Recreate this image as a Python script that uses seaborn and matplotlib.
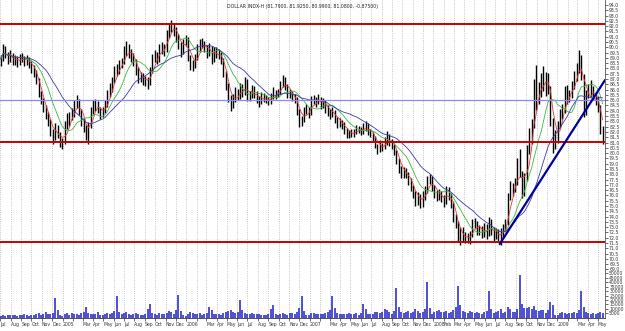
import numpy as np
import pandas as pd
import matplotlib
matplotlib.use('Agg')
import matplotlib.pyplot as plt
import seaborn as sns

# weekly bars (Jul 2004 - May 2009), one line per month
week_close = [
    88.9, 89.9, 89.4, 88.8, 89.3,   # 2004 Jul
    88.6, 88.9, 88.5, 89.1,
    89.0, 88.6, 88.9, 88.4,
    88.0, 87.6, 86.9, 85.6, 85.0,
    84.2, 83.6, 83.0, 82.0,
    81.4, 82.4, 81.8, 81.0, 80.8,
    82.6, 82.9, 83.5, 83.6,         # 2005 Jan
    84.6, 85.0, 84.0, 83.0,
    82.5, 81.6, 82.6, 84.0,
    84.6, 84.5, 84.2, 83.6, 84.0,
    84.6, 85.7, 86.0, 86.8,
    87.8, 87.9, 88.4, 88.6,
    89.6, 90.0, 89.4, 89.2, 88.6,
    87.8, 87.0, 87.3, 86.8,
    86.9, 86.6, 87.8, 89.0, 89.3,
    88.9, 89.9, 90.0, 89.8,
    91.3, 91.8, 92.2, 91.6,
    91.0, 90.2, 89.6, 90.4, 90.8,
    89.0, 88.4, 88.2, 89.0,         # 2006 Jan
    89.9, 90.4, 90.3, 90.0,
    89.4, 90.0, 88.8, 89.6, 89.4,
    89.3, 88.8, 87.6, 86.4,
    85.2, 84.6, 85.1, 85.8,
    85.4, 86.2, 85.7, 86.8, 85.2,
    85.5, 85.9, 85.6, 85.1,
    84.8, 85.4, 85.2, 85.0,
    84.8, 85.3, 85.7, 85.5, 85.8,
    86.4, 87.1, 86.3, 85.6,
    85.6, 85.3, 85.1, 84.0,
    82.9, 83.1, 84.0, 84.2, 83.7,
    85.0, 85.0, 84.8, 85.1,         # 2007 Jan
    84.6, 84.9, 84.2, 83.9,
    83.7, 84.0, 83.2, 82.8, 82.9,
    82.7, 82.2, 81.8, 81.8,
    81.9, 81.9, 82.4, 82.2,
    82.0, 82.4, 82.6, 82.0, 81.9,
    81.5, 80.8, 80.3, 80.8,
    80.5, 81.1, 81.7, 81.1, 80.8,
    80.2, 79.4, 78.5, 78.0,
    78.3, 78.0, 77.4, 76.8,
    76.2, 75.5, 75.9, 75.2, 76.0,
    76.4, 77.4, 77.6, 76.7,
    76.2, 75.9, 76.2, 75.8,         # 2008 Jan
    75.3, 76.5, 76.0, 75.2, 73.9,
    73.3, 72.0, 72.5, 72.0,
    71.9, 71.9, 72.3, 73.4,
    73.4, 72.7, 72.8, 72.4, 73.0,
    72.3, 73.6, 72.7, 72.1,
    72.5, 72.1, 72.4, 72.9,
    73.3, 75.8, 76.9, 76.5, 77.2,
    79.0, 78.1, 76.4, 77.6,
    80.4, 81.0, 82.6, 86.4, 85.0,
    86.2, 86.2, 87.8, 86.6,
    86.2, 83.0, 80.6, 81.6,
    82.6, 83.6, 84.1, 85.9, 85.2,   # 2009 Jan
    85.6, 86.4, 87.3, 88.1,
    89.1, 87.3, 83.8, 85.6,
    86.0, 85.8, 85.4, 85.0,
    84.3, 82.2, 81.1,
]

week_high = [
    89.3, 90.3, 90.1, 89.6, 89.7,
    89.5, 89.3, 89.2, 89.4,
    89.5, 89.2, 89.3, 89.1,
    88.7, 88.3, 87.9, 87.1, 85.9,
    85.2, 84.5, 83.9, 83.2,
    82.3, 82.8, 82.7, 82.0, 81.4,
    83.0, 83.8, 83.9, 84.3,
    85.0, 85.5, 85.1, 84.2,
    83.3, 82.7, 82.9, 84.4,
    85.0, 85.1, 84.9, 84.4, 84.4,
    85.0, 86.0, 86.6, 87.2,
    88.2, 88.4, 88.8, 89.0,
    90.1, 90.6, 90.3, 89.8, 89.5,
    88.9, 88.1, 87.7, 87.6,
    87.3, 87.2, 88.1, 89.4, 89.7,
    89.6, 90.3, 90.5, 90.3,
    91.6, 92.2, 92.6, 92.3,
    91.9, 91.3, 90.5, 90.8, 91.2,
    91.0, 89.3, 88.8, 89.4,
    90.3, 90.8, 90.9, 90.6,
    90.2, 90.4, 90.1, 90.0, 90.0,
    89.8, 89.6, 89.0, 87.8,
    86.6, 85.5, 85.6, 86.2,
    86.1, 86.6, 86.5, 87.2, 87.0,
    85.9, 86.4, 86.3, 85.9,
    85.4, 85.8, 85.7, 85.5,
    85.3, 85.7, 86.2, 86.0, 86.1,
    86.8, 87.4, 87.2, 86.5,
    86.1, 85.9, 85.6, 85.3,
    84.2, 83.5, 84.4, 84.6, 84.4,
    85.4, 85.5, 85.3, 85.6,
    85.3, 85.2, 85.0, 84.5,
    84.2, 84.4, 84.1, 83.4, 83.3,
    83.1, 82.9, 82.4, 82.2,
    82.3, 82.3, 82.7, 82.6,
    82.5, 82.8, 83.0, 82.8, 82.3,
    82.0, 81.6, 80.9, 81.2,
    81.0, 81.5, 82.1, 81.8, 81.3,
    80.9, 80.3, 79.5, 78.8,
    78.7, 78.6, 78.2, 77.6,
    77.0, 76.4, 76.3, 76.1, 76.4,
    76.9, 77.8, 78.0, 77.8,
    77.0, 76.5, 76.6, 76.4,
    76.0, 76.9, 76.8, 76.2, 75.4,
    74.2, 73.6, 73.0, 73.0,
    72.5, 72.4, 72.6, 73.8,
    73.9, 73.6, 73.2, 73.1, 73.4,
    73.3, 74.0, 73.8, 73.0,
    72.9, 72.8, 72.9, 73.3,
    73.8, 76.2, 77.4, 77.2, 77.6,
    79.5, 80.4, 78.3, 78.1,
    80.8, 82.4, 83.2, 87.0, 88.3,
    86.7, 87.6, 88.2, 87.7,
    87.6, 86.3, 83.3, 82.2,
    83.0, 84.2, 84.6, 86.3, 86.4,
    86.0, 86.8, 87.8, 88.5,
    89.7, 89.3, 87.5, 86.0,
    86.5, 86.9, 86.3, 85.8,
    85.4, 84.5, 82.6,
]

week_low = [
    88.2, 88.7, 89.0, 88.4, 88.6,
    88.3, 88.3, 88.1, 88.3,
    88.6, 88.2, 88.3, 88.0,
    87.6, 87.2, 86.5, 85.3, 84.6,
    83.9, 83.2, 82.6, 81.6,
    80.9, 81.2, 81.4, 80.6, 80.4,
    80.9, 82.3, 82.6, 83.1,
    83.4, 84.3, 83.6, 82.6,
    82.0, 81.2, 80.9, 82.4,
    83.7, 84.0, 83.8, 83.2, 83.4,
    83.8, 84.4, 85.3, 85.8,
    86.6, 87.3, 87.5, 88.0,
    88.4, 89.2, 89.0, 88.6, 88.2,
    87.4, 86.6, 86.7, 86.4,
    86.3, 86.1, 86.4, 87.6, 88.6,
    88.4, 88.6, 89.4, 89.2,
    89.6, 90.9, 91.4, 91.1,
    90.5, 89.8, 89.1, 89.4, 90.1,
    88.7, 87.9, 87.8, 88.0,
    88.8, 89.6, 89.9, 89.6,
    89.0, 89.2, 88.4, 88.6, 89.0,
    88.9, 88.4, 87.2, 86.0,
    84.8, 84.0, 84.3, 84.8,
    85.0, 85.1, 85.3, 85.5, 84.9,
    84.9, 85.2, 85.2, 84.7,
    84.4, 84.6, 84.8, 84.7,
    84.5, 84.6, 85.1, 85.1, 85.3,
    85.6, 86.2, 86.0, 85.2,
    85.2, 84.9, 84.7, 83.6,
    82.5, 82.6, 82.9, 83.7, 83.3,
    83.6, 84.6, 84.4, 84.6,
    84.2, 84.3, 83.8, 83.5,
    83.2, 83.4, 82.8, 82.4, 82.5,
    82.3, 81.8, 81.4, 81.4,
    81.5, 81.5, 81.8, 81.9,
    81.7, 81.8, 82.1, 81.7, 81.5,
    81.1, 80.5, 79.9, 80.1,
    80.2, 80.4, 80.8, 80.7, 80.4,
    79.8, 79.0, 78.1, 77.6,
    77.6, 77.6, 77.0, 76.4,
    75.8, 75.0, 75.1, 74.8, 74.9,
    75.6, 76.2, 77.1, 76.4,
    75.8, 75.5, 75.6, 75.4,
    74.9, 75.2, 75.6, 74.8, 73.5,
    72.9, 71.6, 71.3, 71.6,
    71.5, 71.5, 71.4, 72.1,
    72.9, 72.3, 72.3, 72.0, 72.1,
    71.9, 72.2, 72.3, 71.7,
    71.9, 71.7, 71.3, 72.1,
    72.6, 73.2, 75.6, 75.9, 76.3,
    77.0, 77.7, 75.8, 75.9,
    77.4, 79.9, 80.9, 82.4, 84.1,
    84.6, 85.3, 85.9, 85.4,
    85.6, 82.6, 80.0, 80.4,
    81.0, 82.4, 83.2, 83.8, 84.6,
    84.8, 85.2, 86.1, 86.8,
    87.6, 86.9, 83.4, 83.6,
    85.2, 85.3, 85.0, 84.5,
    83.9, 81.8, 80.9,
]

# weekly peak volume, thousands of contracts
week_vol_k = [
    2.5, 3.1, 2.2, 2.8, 3.4,
    2.6, 3.0, 2.1, 2.9,
    3.2, 4.5, 2.7, 2.4,
    3.0, 3.6, 4.1, 5.2, 3.3,
    4.0, 6.4, 3.8, 4.4,
    5.1, 22.0, 8.5, 2.6, 2.2,
    4.5, 5.2, 3.6, 4.8,
    3.9, 4.2, 3.1, 5.6,
    6.2, 12.5, 5.4, 4.4,
    3.8, 4.1, 6.0, 3.5, 3.3,
    4.6, 5.8, 3.9, 5.0,
    7.1, 24.0, 6.2, 4.0,
    4.8, 6.5, 3.7, 3.2, 4.1,
    5.3, 4.0, 3.4, 3.0,
    4.4, 9.5, 15.0, 5.2, 4.2,
    3.6, 4.9, 4.3, 3.8,
    5.5, 8.0, 6.1, 4.7,
    9.0, 26.0, 7.5, 3.1, 2.4,
    4.6, 6.0, 5.2, 4.1,
    3.9, 4.8, 3.6, 4.3,
    5.5, 12.0, 8.2, 4.6, 3.9,
    4.2, 3.5, 5.8, 6.3,
    7.4, 8.8, 6.0, 5.1,
    6.6, 20.0, 9.1, 4.8, 3.7,
    4.5, 5.0, 3.8, 4.0,
    4.3, 3.6, 3.1, 3.4,
    4.0, 9.8, 14.0, 4.4, 3.5,
    3.9, 5.1, 4.2, 3.6,
    4.8, 5.5, 4.1, 6.7,
    10.5, 25.0, 8.0, 3.3, 2.6,
    4.9, 5.7, 4.4, 4.0,
    4.6, 3.9, 5.2, 6.0,
    8.4, 24.0, 11.0, 5.5, 4.3,
    3.8, 4.5, 4.0, 5.1,
    4.2, 3.7, 4.8, 3.5,
    5.3, 15.0, 9.6, 4.1, 3.8,
    4.6, 6.2, 7.0, 5.4,
    6.8, 9.4, 8.6, 5.9, 4.7,
    7.5, 34.0, 12.0, 6.8,
    5.8, 6.3, 7.1, 5.4,
    6.9, 9.8, 7.6, 5.2, 6.4,
    9.7, 40.0, 10.5, 3.9,
    6.5, 7.8, 8.4, 6.0,
    6.9, 7.3, 5.8, 6.6, 8.9,
    12.0, 36.0, 14.0, 7.7,
    6.1, 5.5, 7.2, 6.4,
    5.8, 6.9, 5.1, 4.6, 6.0,
    7.4, 30.0, 9.8, 5.2,
    6.1, 7.9, 9.3, 5.6,
    6.4, 12.0, 10.2, 7.0, 6.3,
    9.6, 48.0, 16.0, 11.5,
    10.8, 12.6, 9.5, 13.0, 8.4,
    7.6, 8.3, 9.0, 5.4,
    8.8, 18.0, 14.0, 3.5,
    3.2, 5.6, 6.1, 5.0, 4.7,
    5.3, 4.8, 6.0, 5.5,
    9.2, 30.0, 12.5, 6.3,
    5.0, 4.4, 5.7, 4.2,
    5.6, 6.8, 5.1,
]

# drawn levels and the trend line
red_levels = [92.2, 81.08, 71.63]
blue_level = 85.0
trend_dates = ['2008-07-15', '2009-05-22']
trend_values = [71.4, 86.9]
ma_weeks = [4, 10, 20]
ma_colors = ['#dd3b3b', '#3cb83c', '#3a3aa8']
title = 'DOLLAR INDX-H (81.7900, 81.9250, 80.9900, 81.0800, -0.87500)'

df = pd.DataFrame({
    'date': pd.date_range('2004-07-02', periods=len(week_close), freq='W-FRI'),
    'close': week_close, 'high': week_high, 'low': week_low,
    'vol': np.array(week_vol_k) * 1000,
})

sns.set_style('white')
plt.rcParams['font.family'] = ['DejaVu Sans']

fig = plt.figure(figsize=(6.25, 3.31), dpi=100)
W, H = 625, 331
ax = fig.add_axes([0, 1 - 270 / H, 605 / W, 270 / H])
axv = fig.add_axes([0, 1 - 318 / H, 605 / W, 48 / H], sharex=ax)

# price bars
ax.vlines(df.date, df.low, df.high, color='black', lw=1.0)
for n, col in zip(ma_weeks, ma_colors):
    ma = df.close.rolling(n, min_periods=1).mean()
    sns.lineplot(x=df.date, y=ma, ax=ax, color=col, lw=0.6)

for lvl in red_levels:
    ax.axhline(lvl, color='#c40000', lw=1.4)
ax.axhline(blue_level, color='#8c8ce6', lw=0.9)
ax.plot(pd.to_datetime(trend_dates), trend_values, color='#00009c', lw=1.6)

ax.set_xlim(pd.Timestamp('2004-06-30'), pd.Timestamp('2009-05-22'))
ax.set_ylim(68.95, 94.47)
ax.yaxis.tick_right()
ax.set_yticks(np.arange(69.0, 94.01, 0.5))
ax.set_yticklabels([f'{v:.1f}' for v in np.arange(69.0, 94.01, 0.5)])
ax.tick_params(axis='y', labelsize=3.3, length=2, width=0.5, pad=1,
               colors='#333333', right=True)
ax.tick_params(axis='x', labelbottom=False, length=0)
ax.set_xlabel('')
ax.set_ylabel('')
ax.text(0.5, 0.985, title, transform=ax.transAxes, ha='center', va='top',
        fontsize=3.3, color='#222222')

# volume
axv.vlines(df.date, 0, df.vol, color='#3030cc', lw=1.2)
axv.set_ylim(-300, 53750)
axv.yaxis.tick_right()
axv.set_yticks(np.arange(5000, 50001, 5000))
axv.set_yticklabels([str(v) for v in range(5000, 50001, 5000)])
axv.tick_params(axis='y', labelsize=3.3, length=2, width=0.5, pad=1,
                colors='#333333', right=True)

months = pd.date_range('2004-07-01', '2009-05-01', freq='MS')
labels = []
for m in months:
    if m.month == 1:
        labels.append(str(m.year))
    elif m.month == 2 and m.year != 2008:
        labels.append('')
    else:
        labels.append(m.strftime('%b'))
axv.set_xticks(months)
axv.set_xticklabels(labels, ha='left')
axv.tick_params(axis='x', labelsize=3.3, length=2, width=0.5, pad=1,
                colors='#333333', bottom=True)

for a in (ax, axv):
    a.grid(axis='x', linestyle=':', color='#b0b0b0', lw=0.6)
    a.grid(axis='y', visible=False)
    a.spines['left'].set_visible(False)
    a.spines['right'].set_color('#555555')
    a.spines['right'].set_linewidth(0.6)
ax.spines['top'].set_visible(False)
ax.spines['bottom'].set_color('#999999')
ax.spines['bottom'].set_linewidth(0.6)
axv.spines['top'].set_visible(False)
axv.spines['bottom'].set_color('#333333')
axv.spines['bottom'].set_linewidth(0.6)

fig.savefig('out.png', dpi=100)
